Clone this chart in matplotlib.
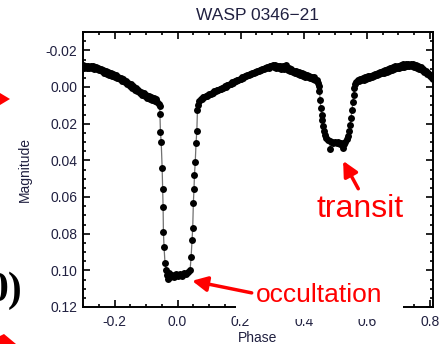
import matplotlib
matplotlib.use("Agg")
import matplotlib.pyplot as plt
from matplotlib.patches import Rectangle, Polygon
from matplotlib.ticker import MultipleLocator, FormatStrFormatter

plt.rcParams['font.family'] = ['Liberation Sans', 'DejaVu Sans']

title = "WASP 0346\u221221"
xlabel = "Phase"
ylabel = "Magnitude"

# light curve values (phase, magnitude)
phase = [
    -0.300, -0.296, -0.292, -0.288, -0.284, -0.280, -0.276, -0.272, -0.268, -0.264,
    -0.260, -0.256, -0.252, -0.248, -0.244, -0.240, -0.236, -0.232, -0.228, -0.224,
    -0.220, -0.216, -0.212, -0.208, -0.204, -0.200, -0.196, -0.192, -0.188, -0.184,
    -0.180, -0.176, -0.172, -0.168, -0.164, -0.160, -0.156, -0.152, -0.148, -0.144,
    -0.140, -0.136, -0.132, -0.128, -0.124, -0.120, -0.116, -0.112, -0.108, -0.104,
    -0.100, -0.096, -0.092, -0.088, -0.084, -0.080, -0.076, -0.072, -0.068, -0.064,
    -0.060, -0.057,
    -0.056, -0.0545, -0.052, -0.049, -0.0475, -0.046, -0.045, -0.043, -0.040,
    -0.0365, -0.0333, -0.0302, -0.027, -0.0238, -0.0175, -0.0111, -0.0048, 0.0016,
    0.0079, 0.0143, 0.0206, 0.027, 0.0333, 0.0397,
    0.0429, 0.046, 0.048, 0.050, 0.052, 0.0535, 0.056, 0.0585, 0.061, 0.063,
    0.065, 0.069, 0.073, 0.077, 0.081, 0.085, 0.089, 0.093, 0.097, 0.101,
    0.105, 0.109, 0.113, 0.117, 0.121, 0.125, 0.129, 0.133, 0.137, 0.141,
    0.145, 0.149, 0.153, 0.157, 0.161, 0.165, 0.169, 0.173, 0.177, 0.181,
    0.185, 0.189, 0.193, 0.197, 0.201, 0.205, 0.209, 0.213, 0.217, 0.221,
    0.225, 0.229, 0.233, 0.237, 0.241, 0.245, 0.249, 0.253, 0.257, 0.261,
    0.265, 0.269, 0.273, 0.277, 0.281, 0.285, 0.289, 0.293, 0.297, 0.301,
    0.305, 0.309, 0.313, 0.317, 0.321, 0.325, 0.329, 0.333, 0.337, 0.341,
    0.345, 0.349, 0.353, 0.357, 0.361, 0.365, 0.369, 0.373, 0.377, 0.381,
    0.385, 0.389, 0.393, 0.397, 0.401, 0.405, 0.409, 0.413, 0.417, 0.421,
    0.425, 0.429, 0.433, 0.437, 0.441, 0.445, 0.448,
    0.450, 0.452, 0.454, 0.457, 0.459, 0.461, 0.464, 0.468, 0.472, 0.477,
    0.482, 0.484, 0.489, 0.494, 0.499, 0.504, 0.509, 0.514, 0.519, 0.524,
    0.527, 0.532, 0.537, 0.541, 0.544, 0.547, 0.550, 0.553, 0.556, 0.558,
    0.560, 0.563, 0.567,
    0.571, 0.575, 0.579, 0.583, 0.587, 0.591, 0.595, 0.599, 0.603, 0.607,
    0.611, 0.615, 0.619, 0.623, 0.627, 0.631, 0.635, 0.639, 0.643, 0.647,
    0.651, 0.655, 0.659, 0.663, 0.667, 0.671, 0.675, 0.679, 0.683, 0.687,
    0.691, 0.695, 0.699, 0.703, 0.707, 0.711, 0.715, 0.719, 0.723, 0.727,
    0.731, 0.735, 0.739, 0.743, 0.747, 0.751, 0.755, 0.759, 0.763, 0.767,
    0.771, 0.775, 0.779, 0.783, 0.787, 0.791, 0.795, 0.799, 0.803, 0.807,
    0.811,
]
magnitude = [
    -0.0120, -0.0104, -0.0117, -0.0106, -0.0114, -0.0102, -0.0115, -0.0104, -0.0112, -0.0099,
    -0.0110, -0.0098, -0.0106, -0.0091, -0.0099, -0.0085, -0.0094, -0.0079, -0.0088, -0.0073,
    -0.0082, -0.0066, -0.0078, -0.0062, -0.0072, -0.0056, -0.0065, -0.0048, -0.0057, -0.0041,
    -0.0050, -0.0034, -0.0042, -0.0025, -0.0032, -0.0014, -0.0023, -0.0006, -0.0014, 0.0003,
    -0.0005, 0.0014, 0.0007, 0.0024, 0.0016, 0.0032, 0.0026, 0.0042, 0.0035, 0.0051,
    0.0043, 0.0059, 0.0050, 0.0065, 0.0056, 0.0070, 0.0062, 0.0075, 0.0068, 0.0084,
    0.0090, 0.0102,
    0.0147, 0.0245, 0.0300, 0.0441, 0.0556, 0.0654, 0.0790, 0.0872, 0.0959,
    0.0997, 0.1025, 0.1046, 0.1014, 0.1035, 0.1025, 0.1035, 0.1019, 0.1030,
    0.1019, 0.1030, 0.1014, 0.1019, 0.1008, 0.0997,
    0.0926, 0.0834, 0.0768, 0.0632, 0.0556, 0.0480, 0.0409, 0.0305, 0.0240, 0.0125,
    0.0100, 0.0077, 0.0066, 0.0064, 0.0056, 0.0054, 0.0051, 0.0047, 0.0045, 0.0039,
    0.0036, 0.0032, 0.0030, 0.0024, 0.0023, 0.0017, 0.0017, 0.0010, 0.0011, 0.0004,
    0.0005, -0.0003, -0.0002, -0.0010, -0.0009, -0.0018, -0.0016, -0.0026, -0.0024, -0.0033,
    -0.0032, -0.0040, -0.0038, -0.0046, -0.0045, -0.0052, -0.0051, -0.0059, -0.0058, -0.0066,
    -0.0064, -0.0071, -0.0070, -0.0077, -0.0076, -0.0082, -0.0081, -0.0088, -0.0087, -0.0094,
    -0.0092, -0.0099, -0.0097, -0.0104, -0.0102, -0.0109, -0.0106, -0.0114, -0.0112, -0.0121,
    -0.0110, -0.0120, -0.0106, -0.0117, -0.0102, -0.0114, -0.0099, -0.0112, -0.0097, -0.0110,
    -0.0120, -0.0095, -0.0106, -0.0088, -0.0098, -0.0080, -0.0090, -0.0075, -0.0085, -0.0070,
    -0.0080, -0.0066, -0.0076, -0.0061, -0.0071, -0.0056, -0.0066, -0.0052, -0.0061, -0.0048,
    -0.0057, -0.0043, -0.0052, -0.0038, -0.0040, -0.0023, -0.0008,
    0.0020, 0.0071, 0.0114, 0.0153, 0.0180, 0.0213, 0.0240, 0.0262, 0.0280, 0.0290,
    0.0296, 0.0338, 0.0300, 0.0305, 0.0300, 0.0308, 0.0302, 0.0310, 0.0305, 0.0332,
    0.0311, 0.0300, 0.0285, 0.0267, 0.0240, 0.0207, 0.0169, 0.0125, 0.0082, 0.0044,
    0.0005, -0.0018, -0.0030,
    -0.0040, -0.0031, -0.0045, -0.0036, -0.0050, -0.0040, -0.0054, -0.0045, -0.0059, -0.0050,
    -0.0062, -0.0054, -0.0068, -0.0058, -0.0073, -0.0064, -0.0079, -0.0069, -0.0084, -0.0074,
    -0.0089, -0.0079, -0.0094, -0.0084, -0.0099, -0.0089, -0.0104, -0.0094, -0.0108, -0.0098,
    -0.0113, -0.0102, -0.0117, -0.0106, -0.0120, -0.0109, -0.0123, -0.0111, -0.0124, -0.0112,
    -0.0126, -0.0114, -0.0127, -0.0114, -0.0125, -0.0111, -0.0120, -0.0106, -0.0115, -0.0100,
    -0.0108, -0.0092, -0.0099, -0.0082, -0.0088, -0.0071, -0.0076, -0.0059, -0.0064, -0.0048,
    -0.0045,
]

xticks = [-0.2, 0.0, 0.2, 0.4, 0.6, 0.8]
yticks = [-0.02, 0.00, 0.02, 0.04, 0.06, 0.08, 0.10, 0.12]

W, H = 442, 344
fig = plt.figure(figsize=(W / 100, H / 100), dpi=100)
ax = fig.add_axes([83 / W, 1 - 307 / H, 350 / W, 275 / H])

ax.plot(phase, magnitude, color='#707070', lw=0.9, zorder=2)
ax.plot(phase, magnitude, 'o', color='black', ms=5.0, mew=0, zorder=3)

ax.set_xlim(-0.30, 0.81)
ax.set_ylim(0.12, -0.03)
ax.set_xticks(xticks)
ax.set_yticks(yticks)
ax.xaxis.set_minor_locator(MultipleLocator(0.05))
ax.yaxis.set_minor_locator(MultipleLocator(0.005))
ax.xaxis.set_major_formatter(FormatStrFormatter('%.1f'))
ax.yaxis.set_major_formatter(FormatStrFormatter('%.2f'))
ax.tick_params(which='both', direction='in', top=True, right=True,
               width=1.2, colors='black', labelcolor='#202040', labelsize=10)
ax.tick_params(which='major', length=5, pad=4)
ax.tick_params(which='minor', length=2.5)
ax.tick_params(axis='x', which='major', pad=6)
for s in ax.spines.values():
    s.set_linewidth(1.4)

ax.set_title(title, fontsize=12.5, color='#202040', pad=9)
ax.set_xlabel(xlabel, fontsize=10, color='#202040', labelpad=1)
ax.set_ylabel(ylabel, fontsize=10, color='#202040', labelpad=10)

red = '#ff0000'
# white box behind "occultation" (covers part of the x axis and label tops)
ax.add_patch(Rectangle((236 / W, 1 - 319 / H), 167 / W, 47 / H,
                       transform=fig.transFigure, facecolor='white',
                       edgecolor='none', zorder=4, clip_on=False))
ax.text(0.449, 0.1172, 'occultation', color=red, fontsize=19, ha='center',
        va='baseline', zorder=6, clip_on=False)
ax.annotate('', xy=(0.046, 0.1057), xytext=(0.235, 0.1123),
            arrowprops=dict(arrowstyle='-|>,head_length=0.9,head_width=0.45',
                            color=red, lw=2.5, shrinkA=0, shrinkB=0),
            annotation_clip=False, zorder=6)

ax.text(0.579, 0.0708, 'transit', color=red, fontsize=23, ha='center',
        va='baseline', zorder=6)
ax.annotate('', xy=(0.525, 0.0403), xytext=(0.573, 0.0555),
            arrowprops=dict(arrowstyle='-|>,head_length=0.9,head_width=0.45',
                            color=red, lw=2.5, shrinkA=0, shrinkB=0),
            annotation_clip=False, zorder=6)

# slide remnants on the left edge
fig.add_artist(Polygon([(0, 1 - 93 / H), (10 / W, 1 - 99 / H), (0, 1 - 105 / H)],
                       closed=True, transform=fig.transFigure,
                       facecolor=red, edgecolor='none'))
fig.text(22 / W, 1 - 301 / H, '0)', family=['Liberation Serif', 'DejaVu Serif'],
         fontweight='bold', fontsize=30, ha='right', va='baseline', color='black')
fig.add_artist(Polygon([(0, 0), (16 / W, 0), (4 / W, 10 / H), (0, 8 / H)],
                       closed=True, transform=fig.transFigure,
                       facecolor=red, edgecolor='none'))

fig.savefig('out.png', dpi=100)
